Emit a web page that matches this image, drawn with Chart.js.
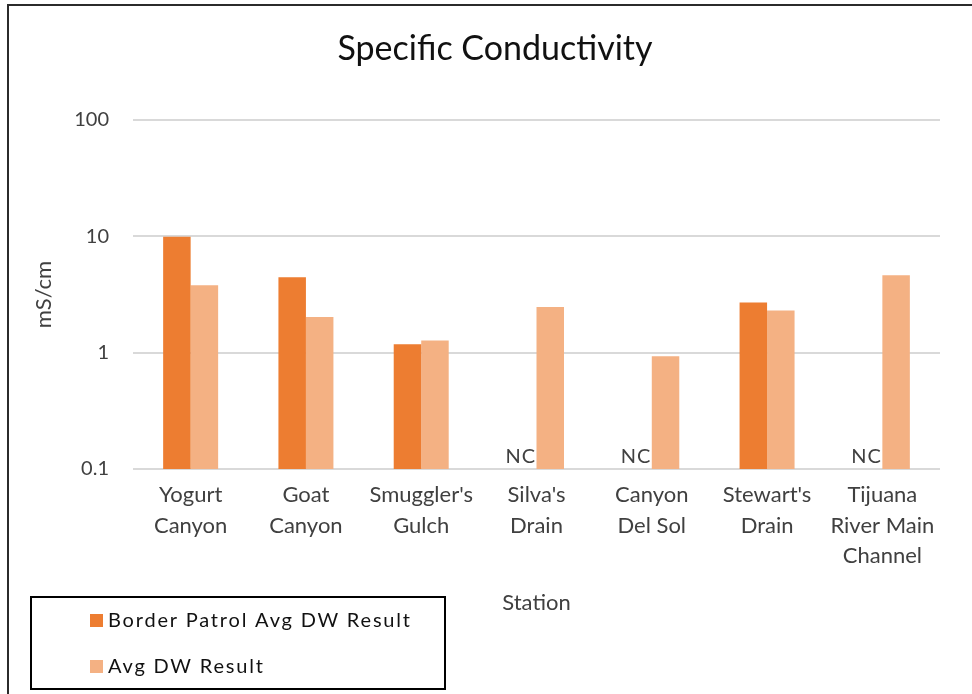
<!DOCTYPE html>
<html>
<head>
<meta charset="utf-8">
<script src="https://cdn.jsdelivr.net/npm/chart.js@4/dist/chart.umd.min.js"></script>
<style>
  html, body { margin: 0; padding: 0; background: #ffffff; }
  #wrap { width: 972px; height: 694px; }
</style>
</head>
<body>
<div id="wrap"><canvas id="c" width="972" height="694"></canvas></div>
<script>
const categories = [
  ["Yogurt", "Canyon"],
  ["Goat", "Canyon"],
  ["Smuggler's", "Gulch"],
  ["Silva's", "Drain"],
  ["Canyon", "Del Sol"],
  ["Stewart's", "Drain"],
  ["Tijuana", "River Main", "Channel"]
];
const borderPatrolAvg = [9.9, 4.45, 1.18, null, null, 2.7, null];
const avgDW = [3.8, 2.03, 1.27, 2.47, 0.93, 2.3, 4.63];
const yTickValues = [0.1, 1, 10, 100];
const yTickLabels = ["0.1", "1", "10", "100"];
const missingLabel = "NC";
const chartTitle = "Specific Conductivity";

const FONT = "Lato, 'Open Sans', sans-serif";
const TXT = "#404040";

const frameAndLegend = {
  id: 'frameAndLegend',
  afterDraw(chart) {
    const ctx = chart.ctx;
    ctx.save();
    // outer chart frame
    ctx.strokeStyle = '#2b2b2b';
    ctx.lineWidth = 2;
    ctx.strokeRect(8, 5, 1000, 800);

    // chart title
    ctx.fillStyle = '#111111';
    ctx.font = "34px " + FONT;
    ctx.textAlign = 'center';
    ctx.textBaseline = 'middle';
    ctx.fillText(chartTitle, 495, 49);

    // NC labels for missing series values
    const meta = chart.getDatasetMeta(0);
    ctx.fillStyle = TXT;
    ctx.font = "20px " + FONT;
    try { ctx.letterSpacing = '1px'; } catch (e) {}
    const yBase = chart.scales.y.getPixelForValue(yTickValues[0]);
    chart.data.datasets[0].data.forEach((v, i) => {
      if (v === null) {
        const el = meta.data[i];
        ctx.fillText(missingLabel, el.x - 2, yBase - 12);
      }
    });

    // legend box
    ctx.strokeStyle = '#000000';
    ctx.lineWidth = 2;
    ctx.strokeRect(31, 597, 414, 92);
    ctx.textAlign = 'left';
    ctx.font = "20px " + FONT;
    try { ctx.letterSpacing = '1.8px'; } catch (e) {}
    chart.data.datasets.forEach((ds, k) => {
      const cy = 621 + k * 46;
      ctx.fillStyle = ds.backgroundColor;
      ctx.fillRect(90, cy - 7, 13, 13);
      ctx.fillStyle = '#111111';
      ctx.fillText(ds.label, 108, cy);
    });
    ctx.restore();
  }
};

new Chart(document.getElementById('c'), {
  type: 'bar',
  data: {
    labels: categories,
    datasets: [
      {
        label: 'Border Patrol Avg DW Result',
        data: borderPatrolAvg,
        backgroundColor: '#ED7D31',
        categoryPercentage: 0.477,
        barPercentage: 1.0
      },
      {
        label: 'Avg DW Result',
        data: avgDW,
        backgroundColor: '#F4B183',
        categoryPercentage: 0.477,
        barPercentage: 1.0
      }
    ]
  },
  options: {
    responsive: false,
    animation: false,
    layout: { padding: { left: 0, right: 32, top: 120, bottom: 0 } },
    plugins: {
      legend: { display: false },
      tooltip: { enabled: false },
      title: { display: false }
    },
    scales: {
      x: {
        grid: { display: false },
        border: { display: false },
        ticks: {
          color: TXT,
          font: { family: FONT, size: 22, lineHeight: 1.38 },
          padding: 3,
          maxRotation: 0,
          autoSkip: false
        },
        title: {
          display: true,
          text: 'Station',
          color: TXT,
          font: { family: FONT, size: 22, lineHeight: 1.2 },
          padding: { top: 0, bottom: 78 }
        },
        afterFit(s) { s.height = 225; }
      },
      y: {
        type: 'logarithmic',
        min: yTickValues[0],
        max: yTickValues[yTickValues.length - 1],
        grid: { color: '#D9D9D9', lineWidth: 2, drawTicks: false },
        border: { display: false },
        afterBuildTicks(s) { s.ticks = yTickValues.map(v => ({ value: v })); },
        ticks: {
          color: TXT,
          font: { family: FONT, size: 20 },
          padding: 24,
          callback(v) { const i = yTickValues.indexOf(v); return i >= 0 ? yTickLabels[i] : ''; }
        },
        title: {
          display: true,
          text: 'mS/cm',
          color: TXT,
          font: { family: FONT, size: 22, lineHeight: 1.2 },
          padding: { top: 31, bottom: 0 }
        },
        afterFit(s) { s.width = 133; }
      }
    }
  },
  plugins: [frameAndLegend]
});
</script>
</body>
</html>
